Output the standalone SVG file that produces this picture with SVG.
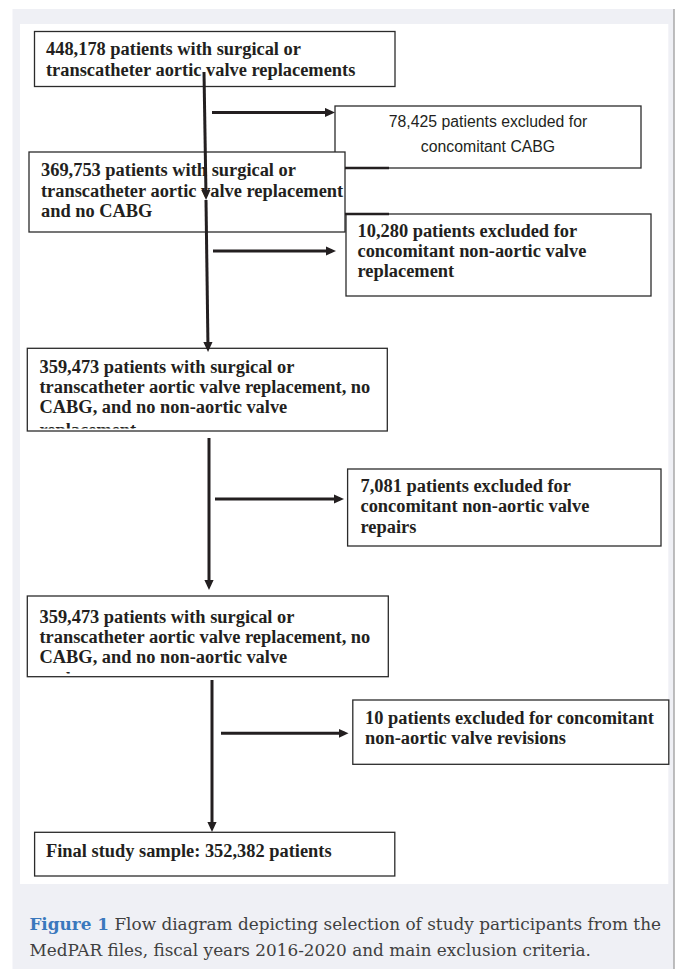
<svg xmlns="http://www.w3.org/2000/svg" width="677" height="969" viewBox="0 0 677 969">
<style>
.box{fill:#ffffff;stroke:#2b2b2b;stroke-width:1.3}
.bt{font-family:"Liberation Serif","Times New Roman",serif;font-weight:bold;font-size:18.4px;fill:#231f20}
.st{font-family:"Liberation Sans",Arial,sans-serif;font-size:15.8px;fill:#231f20;text-anchor:middle}
.con{stroke:#231f20;stroke-width:3;fill:none}
.cap{font-family:"DejaVu Serif",serif;font-size:17px;fill:#404040}
</style>
<defs>
<marker id="ah" viewBox="0 0 10 10" refX="6" refY="5" markerWidth="10" markerHeight="10" markerUnits="userSpaceOnUse" orient="auto">
<path d="M0,0.4 L10,5 L0,9.6 Z" fill="#231f20"/>
</marker>
<clipPath id="c3"><rect x="27" y="348" width="361" height="80.5"/></clipPath>
<clipPath id="c4"><rect x="27" y="596" width="362" height="77.5"/></clipPath>
</defs>
<rect x="0" y="0" width="677" height="969" fill="#ffffff"/>
<rect x="12.5" y="9" width="661.5" height="960" fill="#eff0f5"/>
<line x1="674" y1="9" x2="674" y2="969" stroke="#a8a8a8" stroke-width="1.5"/>
<rect x="20" y="24" width="648.3" height="860" fill="#ffffff"/>

<g id="n1">
<rect class="box" x="34.5" y="31.5" width="360.5" height="55"/>
<text class="bt" x="46" y="55">448,178 patients with surgical or</text>
<text class="bt" x="46" y="75.5">transcatheter aortic valve replacements</text>
</g>
<g id="n2">
<rect class="box" x="335" y="106" width="306" height="62"/>
<text class="st" x="488" y="127.3">78,425 patients excluded for</text>
<text class="st" x="488" y="151.7">concomitant CABG</text>
</g>
<g id="n3">
<rect class="box" x="29" y="152" width="316" height="80"/>
<text class="bt" x="41" y="176">369,753 patients with surgical or</text>
<text class="bt" x="41" y="196.5">transcatheter aortic valve replacement</text>
<text class="bt" x="41" y="217">and no CABG</text>
</g>
<g id="n4">
<rect class="box" x="346" y="214" width="305" height="82"/>
<text class="bt" x="357.5" y="236.7">10,280 patients excluded for</text>
<text class="bt" x="357.5" y="257">concomitant non-aortic valve</text>
<text class="bt" x="357.5" y="277">replacement</text>
</g>
<g id="marks">
<line x1="345" y1="168" x2="389" y2="168" stroke="#231f20" stroke-width="2.4"/>
<line x1="345" y1="214" x2="389" y2="214" stroke="#231f20" stroke-width="2.4"/>
</g>
<g id="n5">
<rect class="box" x="27.3" y="348.3" width="360" height="82.7"/>
<g clip-path="url(#c3)">
<text class="bt" x="39.5" y="372.5">359,473 patients with surgical or</text>
<text class="bt" x="39.5" y="392.5">transcatheter aortic valve replacement, no</text>
<text class="bt" x="39.5" y="412.5">CABG, and no non-aortic valve</text>
<text class="bt" x="39.5" y="436.2">replacement</text>
</g>
</g>
<g id="n6">
<rect class="box" x="347.6" y="469" width="313.4" height="77"/>
<text class="bt" x="360.5" y="491.7">7,081 patients excluded for</text>
<text class="bt" x="360.5" y="512">concomitant non-aortic valve</text>
<text class="bt" x="360.5" y="532.5">repairs</text>
</g>
<g id="n7">
<rect class="box" x="27.3" y="596" width="361" height="80.7"/>
<g clip-path="url(#c4)">
<text class="bt" x="39.5" y="622.7">359,473 patients with surgical or</text>
<text class="bt" x="39.5" y="642.7">transcatheter aortic valve replacement, no</text>
<text class="bt" x="39.5" y="662.7">CABG, and no non-aortic valve</text>
<text class="bt" x="39.5" y="685">replacement</text>
</g>
</g>
<g id="n8">
<rect class="box" x="352.8" y="700" width="316" height="64.3"/>
<text class="bt" x="365" y="724">10 patients excluded for concomitant</text>
<text class="bt" x="365" y="744">non-aortic valve revisions</text>
</g>
<g id="n9">
<rect class="box" x="34.6" y="832.3" width="360.2" height="43.7"/>
<text class="bt" x="46" y="856.7">Final study sample: 352,382 patients</text>
</g>

<g id="connectors">
<line class="con" x1="204" y1="72" x2="206" y2="196" marker-end="url(#ah)"/>
<line class="con" x1="206" y1="200" x2="208" y2="348" marker-end="url(#ah)"/>
<line class="con" x1="212" y1="112.5" x2="331" y2="112.5" marker-end="url(#ah)"/>
<line class="con" x1="213" y1="251" x2="332" y2="251" marker-end="url(#ah)"/>
<line class="con" x1="209" y1="438" x2="209" y2="586" marker-end="url(#ah)"/>
<line class="con" x1="215" y1="499" x2="340" y2="499" marker-end="url(#ah)"/>
<line class="con" x1="212" y1="680" x2="212" y2="828" marker-end="url(#ah)"/>
<line class="con" x1="221" y1="733.3" x2="344.5" y2="733.3" marker-end="url(#ah)"/>
</g>

<g id="caption">
<text class="cap" x="29.4" y="930" textLength="631.6" lengthAdjust="spacingAndGlyphs"><tspan fill="#3a78bd" font-weight="bold">Figure 1</tspan> Flow diagram depicting selection of study participants from the</text>
<text class="cap" x="29.4" y="955.5" textLength="561.6" lengthAdjust="spacingAndGlyphs">MedPAR files, fiscal years 2016-2020 and main exclusion criteria.</text>
</g>
</svg>
